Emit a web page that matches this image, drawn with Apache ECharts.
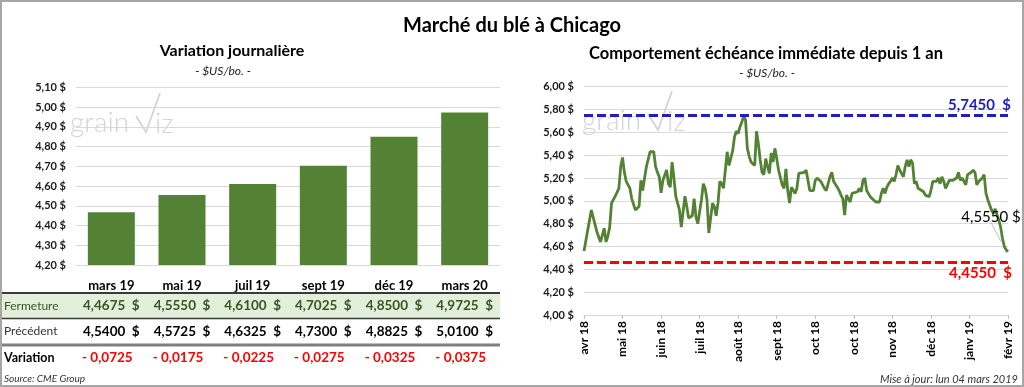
<!DOCTYPE html>
<html><head><meta charset="utf-8">
<script src="https://cdn.jsdelivr.net/npm/echarts@6/dist/echarts.min.js"></script>
<style>html,body{margin:0;padding:0;background:#fff}#c{width:1024px;height:387px}</style>
</head><body><div id="c"></div>
<script>
// ---- data ----
const contracts = ['mars 19','mai 19','juil 19','sept 19','déc 19','mars 20'];
const closing   = [4.4675, 4.5550, 4.6100, 4.7025, 4.8500, 4.9725];
const previous  = [4.5400, 4.5725, 4.6325, 4.7300, 4.8825, 5.0100];
const change    = [-0.0725, -0.0175, -0.0225, -0.0275, -0.0325, -0.0375];
const dateTickLabels = ['avr 18','mai 18','juin 18','juil 18','août 18','sept 18','oct 18','oct 18','nov 18','déc 18','janv 19','févr 19'];
const dayIdx = [0,4,5,7,9,10,11,12,13,14,15,16,17,19,20,21,22,23,24,25,26,28,30,31,32,33,34,35,36,37,38,39,40,41,42,43,45,46,47,48,49,50,52,53,55,56,57,59,60,61,62,64,65,66,67,68,70,71,72,73,74,75,76,78,79,81,82,83,84,85,86,87,88,89,90,91,92,93,94,95,96,97,98,99,100,101,102,103,104,105,106,108,109,110,111,112,113,115,116,117,118,120,121,122,123,125,126,127,129,130,131,132,134,135,136,138,139,140,141,142,143,144,145,146,147,149,150,151,152,153,154,155,156,157,159,160,161,162,163,164,165,166,167,168,169,170,171,172,174,175,176,177,178,179,180,181,182,183,185,186,188,189,190,192,193,194,195,196,197,199,200,201,203,204,205,206,207,208,209,211,212,213,214,215,217,218,219,220,222,223,224,225,226,227,228,229,230,231];
const nearbyPrice = [4.56,4.92,4.91,4.73,4.64,4.63,4.76,4.64,4.69,4.77,4.98,4.99,5.04,5.11,5.30,5.38,5.25,5.17,5.14,5.11,5.02,4.92,4.95,5.18,5.09,5.20,5.30,5.31,5.43,5.44,5.43,5.30,5.25,5.21,5.07,5.18,5.27,5.15,5.12,5.34,5.20,5.04,4.92,4.77,5.04,4.95,4.85,4.87,5.02,4.86,4.80,5.01,5.15,5.11,5.01,4.72,4.98,4.95,4.87,4.98,5.17,5.15,5.11,5.43,5.31,5.44,5.56,5.61,5.59,5.65,5.69,5.745,5.71,5.46,5.39,5.34,5.33,5.31,5.61,5.50,5.36,5.25,5.23,5.37,5.30,5.24,5.42,5.34,5.46,5.37,5.27,5.14,5.11,5.28,5.09,4.98,5.12,5.065,5.11,5.24,5.23,5.25,5.27,5.18,5.09,5.09,5.18,5.20,5.17,5.18,5.11,5.09,5.21,5.25,5.17,5.12,5.09,5.05,5.02,4.875,5.05,5.065,4.99,5.065,5.08,5.08,5.11,5.08,5.18,5.20,5.09,5.08,5.035,5.02,4.99,4.98,4.99,5.065,5.11,5.065,5.12,5.15,5.17,5.20,5.17,5.23,5.31,5.27,5.21,5.30,5.36,5.30,5.36,5.33,5.15,5.17,5.11,5.11,5.08,5.05,5.035,5.09,5.17,5.17,5.20,5.15,5.21,5.17,5.11,5.18,5.18,5.18,5.20,5.25,5.18,5.20,5.17,5.14,5.23,5.25,5.27,5.25,5.14,5.17,5.20,5.23,5.065,5.01,4.92,4.89,4.93,4.92,4.83,4.77,4.67,4.60,4.57,4.555];
const yearHigh = 5.745;
const yearLow  = 4.455;

// ---- helpers ----
const FF = "Lato, 'Open Sans', sans-serif";
const fmt2 = v => v.toFixed(2).replace('.', ',') + ' $';
const fmt4 = v => v.toFixed(4).replace('.', ',');
const GREEN = '#548235', GRID = '#d9d9d9', BLUE = '#1f1fbf', RED = '#ff0000';

const chart = echarts.init(document.getElementById('c'), null, {renderer: 'canvas'});
const lastI = dayIdx.length - 1;

chart.setOption({
  animation: false,
  textStyle: {fontFamily: FF},
  grid: [
    {left: 76, right: 524, top: 87.3, bottom: 122, outerBoundsMode: 'none'},
    {left: 584, right: 16, top: 86.7, bottom: 72, outerBoundsMode: 'none'}
  ],
  xAxis: [
    {type: 'category', gridIndex: 0, data: contracts,
     axisLine: {lineStyle: {color: GRID}}, axisTick: {show: false},
     axisLabel: {margin: 14, color: '#000', fontWeight: 'bold', fontSize: 13, fontFamily: FF}},
    {type: 'value', gridIndex: 1, min: 0, max: 231, interval: 21,
     splitLine: {show: false},
     axisLine: {show: true, lineStyle: {color: GRID}},
     axisTick: {show: true, length: 4, lineStyle: {color: '#bfbfbf'}},
     axisLabel: {rotate: 90, margin: 6, color: '#000', fontWeight: 'bold', fontSize: 12, fontFamily: FF,
       formatter: v => dateTickLabels[Math.round(v / 21)] || ''}}
  ],
  yAxis: [
    {type: 'value', gridIndex: 0, min: 4.2, max: 5.1, interval: 0.1,
     splitLine: {lineStyle: {color: GRID}}, axisLine: {show: false}, axisTick: {show: false},
     axisLabel: {margin: 10, color: '#1a1a1a', fontWeight: 'bold', fontSize: 11, fontFamily: FF, formatter: fmt2}},
    {type: 'value', gridIndex: 1, min: 4.0, max: 6.0, interval: 0.2,
     splitLine: {lineStyle: {color: GRID}}, axisLine: {show: false}, axisTick: {show: false},
     axisLabel: {margin: 10, color: '#1a1a1a', fontWeight: 'bold', fontSize: 11, fontFamily: FF, formatter: fmt2}}
  ],
  series: [
    {type: 'bar', xAxisIndex: 0, yAxisIndex: 0, data: closing, barWidth: 47,
     itemStyle: {color: GREEN}, z: 3},
    {type: 'line', xAxisIndex: 1, yAxisIndex: 1, showSymbol: false, z: 3,
     data: dayIdx.map((d, i) => [d, nearbyPrice[i]]),
     lineStyle: {color: GREEN, width: 2.8}, itemStyle: {color: GREEN},
     markLine: {
       silent: true, symbol: ['none', 'none'],
       data: [
         {yAxis: yearHigh, lineStyle: {color: BLUE, type: [9, 4], width: 3},
          label: {show: true, position: 'insideEndTop', distance: [-3, 3], formatter: fmt4(yearHigh) + '  $',
                  color: BLUE, fontSize: 15, fontWeight: 'bold', fontFamily: FF}},
         {yAxis: yearLow, lineStyle: {color: RED, type: [9, 4], width: 3},
          label: {show: true, position: 'insideEndBottom', distance: [-4, 3], formatter: fmt4(yearLow) + '  $',
                  color: RED, fontSize: 15, fontWeight: 'bold', fontFamily: FF}}
       ]
     },
     markPoint: {
       silent: true, symbol: 'circle', symbolSize: 0,
       data: [{coord: [dayIdx[lastI], nearbyPrice[lastI]]}],
       label: {show: true, formatter: fmt4(nearbyPrice[lastI]) + ' $', offset: [-17, -34],
               color: '#000', fontSize: 15, fontFamily: FF}
     }}
  ]
});

// ---- table, titles and decorations placed from the axes ----
const g = [];
const T = (x, y, text, o) => g.push(Object.assign({type: 'text', x, y,
  style: Object.assign({text, fontFamily: FF, fill: '#000', align: 'left', verticalAlign: 'middle'}, o.style || {})}, o.z != null ? {z: o.z} : {}));

// frame
g.push({type: 'rect', shape: {x: 1, y: 1, width: 1022, height: 385}, style: {fill: 'none', stroke: '#a6a6a6', lineWidth: 2}, z: 10});

// titles
T(512, 26, 'Marché du blé à Chicago', {style: {align: 'center', fontSize: 20, fontWeight: 'bold'}});
T(232, 51, 'Variation journalière', {style: {align: 'center', fontSize: 16, fontWeight: 'bold'}});
T(223, 71, '- $US/bo. -', {style: {align: 'center', fontSize: 12, fontStyle: 'italic', fill: '#222'}});
T(766, 54, 'Comportement échéance immédiate depuis 1 an', {style: {align: 'center', fontSize: 16.5, fontWeight: 'bold'}});
T(767, 73, '- $US/bo. -', {style: {align: 'center', fontSize: 12, fontStyle: 'italic', fill: '#222'}});

// watermarks
[[0, 0], [512, -2]].forEach(([dx, dy]) => {
  T(70 + dx, 123 + dy, 'grain', {z: 1, style: {fontSize: 28, fontWeight: 300, fill: '#d4d4d4'}});
  T(155 + dx, 124 + dy, 'iz', {z: 1, style: {fontSize: 28, fontWeight: 300, fill: '#d4d4d4'}});
  g.push({type: 'polyline', z: 1, shape: {points: [[136 + dx, 116 + dy], [146 + dx, 132 + dy], [160 + dx, 93 + dy]]},
          style: {stroke: '#d4d4d4', lineWidth: 1.8, fill: 'none'}});
});

// table rows
g.push({type: 'rect', shape: {x: 2, y: 294, width: 498, height: 24}, style: {fill: '#e2efda'}, z: 0});
g.push({type: 'line', shape: {x1: 2, y1: 293, x2: 500, y2: 293}, style: {stroke: '#3a3a3a', lineWidth: 2}});
g.push({type: 'line', shape: {x1: 2, y1: 318.5, x2: 500, y2: 318.5}, style: {stroke: '#3a3a3a', lineWidth: 1.5}});
g.push({type: 'line', shape: {x1: 2, y1: 345, x2: 500, y2: 345}, style: {stroke: '#808080', lineWidth: 3}});
T(4, 306, 'Fermeture', {style: {fontSize: 12, fill: '#375623'}});
T(4, 331.5, 'Précédent', {style: {fontSize: 12, fill: '#333'}});
T(4, 357.5, 'Variation', {style: {fontSize: 12.5, fontWeight: 'bold'}});
contracts.forEach((c, i) => {
  const cx = chart.convertToPixel({xAxisIndex: 0}, i);
  T(cx, 306, fmt4(closing[i]) + '  $', {style: {align: 'center', fontSize: 13.5, fontWeight: 'bold', fill: '#375623'}});
  T(cx, 331.5, fmt4(previous[i]) + '  $', {style: {align: 'center', fontSize: 13.5, fontWeight: 'bold'}});
  T(cx - 4, 357.5, (change[i] < 0 ? '- ' : '+ ') + fmt4(Math.abs(change[i])), {style: {align: 'center', fontSize: 13.5, fontWeight: 'bold', fill: RED}});
});

// footers
T(4, 379, 'Source: CME Group', {style: {fontSize: 10, fontStyle: 'italic', fill: '#333'}});
T(1018, 379, 'Mise à jour: lun 04 mars 2019', {style: {align: 'right', fontSize: 11, fontStyle: 'italic', fill: '#333'}});

// leader line of the last-price label
const lp = chart.convertToPixel({xAxisIndex: 1, yAxisIndex: 1}, [dayIdx[lastI], nearbyPrice[lastI]]);
g.push({type: 'line', shape: {x1: lp[0] - 18, y1: lp[1] - 31, x2: lp[0] - 7, y2: lp[1] - 10}, style: {stroke: '#bfbfbf', lineWidth: 1}});

chart.setOption({graphic: {elements: g}});
</script>
</body></html>
